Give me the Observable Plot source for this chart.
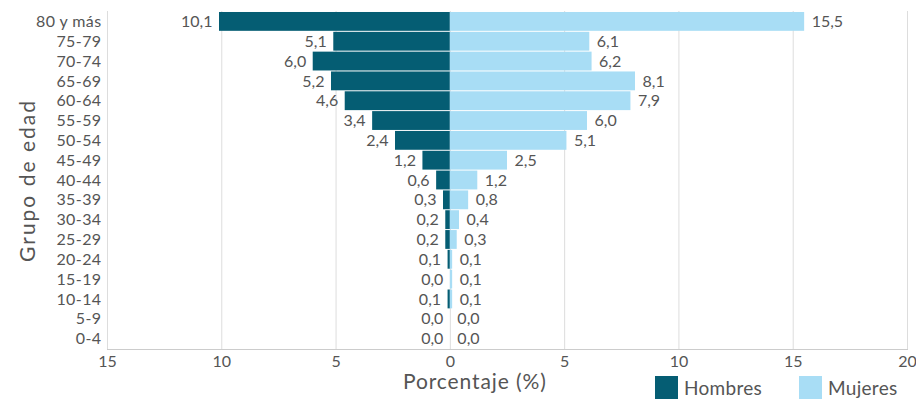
<!DOCTYPE html>
<html><head><meta charset="utf-8">
<script src="https://cdn.jsdelivr.net/npm/d3@7"></script>
<script src="https://cdn.jsdelivr.net/npm/@observablehq/plot@0.6"></script>
<style>
body{margin:0;background:#fff;font-family:Lato,sans-serif;}
#wrap{position:relative;width:916px;height:399px;overflow:hidden;}
.xt{position:absolute;left:403px;top:368px;font-size:21px;letter-spacing:0.9px;color:#555;white-space:nowrap;}
.lg{position:absolute;top:376px;display:flex;align-items:center;font-size:19px;color:#555;letter-spacing:0.3px;}
.sw{width:23px;height:23px;margin-right:6px;}
</style></head><body>
<div id="wrap"></div>
<script>
const ageGroups = ["80 y más","75-79","70-74","65-69","60-64","55-59","50-54","45-49","40-44","35-39","30-34","25-29","20-24","15-19","10-14","5-9","0-4"];
const hombres = [10.1,5.1,6.0,5.2,4.6,3.4,2.4,1.2,0.6,0.3,0.2,0.2,0.1,0.0,0.1,0.0,0.0];
const mujeres = [15.5,6.1,6.2,8.1,7.9,6.0,5.1,2.5,1.2,0.8,0.4,0.3,0.1,0.1,0.1,0.0,0.0];
const xTicks = [-15,-10,-5,0,5,10,15,20];
const seriesNames = ["Hombres","Mujeres"];
const colors = ["#055D73","#A8DDF5"];

const fmt = v => d3.format(".1f")(v).replace(".", ",");
const men = ageGroups.map((g,i)=>({g, v: hombres[i]}));
const women = ageGroups.map((g,i)=>({g, v: mujeres[i]}));

const chart = Plot.plot({
  width: 916, height: 399,
  marginLeft: 107, marginRight: 9, marginTop: 11, marginBottom: 50,
  style: {fontFamily: "Lato, sans-serif", fontSize: "16px", color: "#555", background: "#fff"},
  x: {domain: [-15, 20]},
  y: {domain: ageGroups, padding: 0.05, round: false},
  marks: [
    Plot.gridX(xTicks, {stroke: "#ddd", strokeOpacity: 1}),
    Plot.frame({anchor: "bottom", stroke: "#ccc"}),
    Plot.barX(men, {y: "g", x1: 0, x2: d => -d.v, fill: colors[0]}),
    Plot.barX(women, {y: "g", x1: 0, x2: d => d.v, fill: colors[1]}),
    Plot.text(men, {y: "g", x: d => -d.v, text: d => fmt(d.v), textAnchor: "end", dx: -7, fill: "#555", fontSize: 16}),
    Plot.text(women, {y: "g", x: d => d.v, text: d => fmt(d.v), textAnchor: "start", dx: 7, fill: "#555", fontSize: 16}),
    Plot.axisX({ticks: xTicks, tickFormat: d => Math.abs(d), tickSize: 0, tickPadding: 6, label: null, fontSize: 16}),
    Plot.axisY({tickSize: 0, tickPadding: 6, label: "Grupo de edad", labelAnchor: "center", labelOffset: 87, labelArrow: "none", fontSize: 16})
  ]
});
const wrap = document.getElementById("wrap");
wrap.appendChild(chart);
chart.querySelectorAll("g[aria-label='y-axis label'] text").forEach(t => { t.style.fontSize = "21px"; t.style.letterSpacing = "2px"; });
chart.querySelectorAll("g[aria-label='y-axis tick label'] text").forEach(t => { t.style.letterSpacing = "0.4px"; });

const xt = document.createElement("div");
xt.className = "xt"; xt.textContent = "Porcentaje (%)";
wrap.appendChild(xt);
const lgPos = [655, 799];
seriesNames.forEach((n,i)=>{
  const d = document.createElement("div");
  d.className = "lg"; d.style.left = lgPos[i] + "px";
  d.innerHTML = `<div class="sw" style="background:${colors[i]}"></div><span>${n}</span>`;
  wrap.appendChild(d);
});
</script>
</body></html>
